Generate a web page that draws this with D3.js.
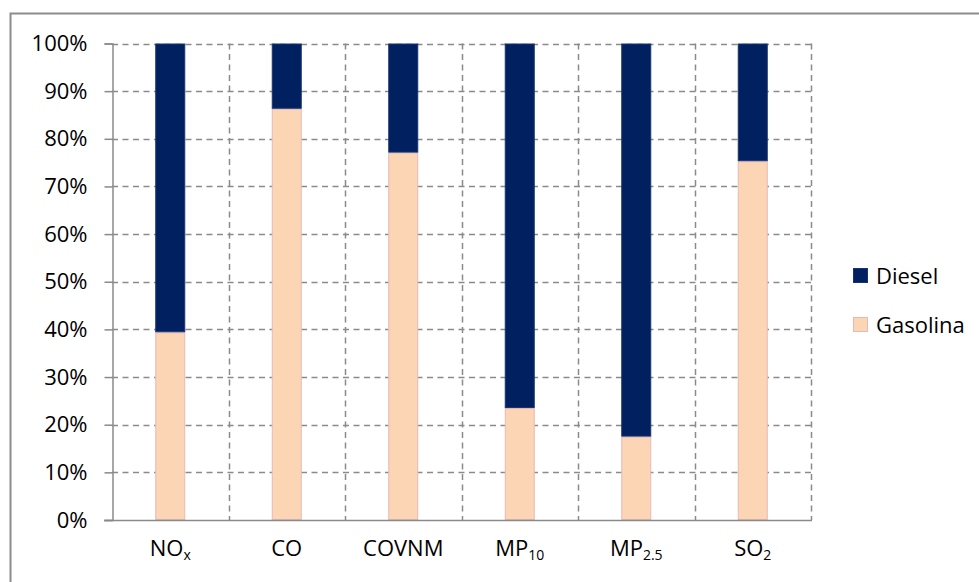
<!DOCTYPE html>
<html>
<head>
<meta charset="utf-8">
<script src="https://cdn.jsdelivr.net/npm/d3@7"></script>
<style>
  html, body { margin: 0; padding: 0; background: #fff; }
  svg { display: block; }
  text { font-family: "Open Sans", "Noto Sans", sans-serif; fill: #000; }
</style>
</head>
<body>
<svg id="chart" width="979" height="582"></svg>
<script>
// Pollutant categories: base name and subscript
const categories = ["NOx", "CO", "COVNM", "MP10", "MP2.5", "SO2"];
const labelBase = ["NO", "CO", "COVNM", "MP", "MP", "SO"];
const labelSub = ["x", "", "", "10", "2.5", "2"];

// Share of emissions by fuel (percent)
const gasolina = [39.4, 86.3, 77.1, 23.5, 17.5, 75.3];
const diesel = gasolina.map(g => 100 - g);

const yTicks = [0, 10, 20, 30, 40, 50, 60, 70, 80, 90, 100];
const seriesNames = ["Diesel", "Gasolina"];

const colors = { Diesel: "#002060", Gasolina: "#fcd5b4" };
const strokes = { Diesel: "#1a3370", Gasolina: "#e6b9b8" };

const svg = d3.select("#chart");
const plotLeft = 112, plotRight = 811, plotTop = 43.5, plotBottom = 520;
const fontSize = 22;

// outer chart frame
svg.append("path")
  .attr("d", `M10.5,582 V13.5 H979`)
  .attr("fill", "none").attr("stroke", "#8c8c8c").attr("stroke-width", 2);

const x = d3.scaleBand().domain(categories).range([plotLeft, plotRight]).paddingInner(0).paddingOuter(0);
const y = d3.scaleLinear().domain([0, 100]).range([plotBottom, plotTop]);

const grid = svg.append("g");
// horizontal dashed gridlines
grid.selectAll("line.h").data(yTicks.filter(d => d > 0)).join("line")
  .attr("x1", plotLeft).attr("x2", plotRight)
  .attr("y1", d => Math.round(y(d)) + 0.5).attr("y2", d => Math.round(y(d)) + 0.5)
  .attr("stroke", "#8a8a8a").attr("stroke-width", 1.5).attr("stroke-dasharray", "6,4.5");
// vertical dashed gridlines at category boundaries
const bounds = categories.slice(1).map(c => x(c)).concat([plotRight]);
grid.selectAll("line.v").data(bounds).join("line")
  .attr("x1", d => Math.round(d) + 0.5).attr("x2", d => Math.round(d) + 0.5)
  .attr("y1", plotTop).attr("y2", plotBottom)
  .attr("stroke", "#8a8a8a").attr("stroke-width", 1.5).attr("stroke-dasharray", "6,4.5");

// stacked bars
const rows = categories.map((c, i) => ({ cat: c, Gasolina: gasolina[i], Diesel: diesel[i] }));
const stack = d3.stack().keys(["Gasolina", "Diesel"])(rows);
const barW = 30;
svg.append("g").selectAll("g").data(stack).join("g")
  .attr("fill", d => colors[d.key]).attr("stroke", d => strokes[d.key]).attr("stroke-width", 1)
  .selectAll("rect").data(d => d).join("rect")
  .attr("x", d => x(d.data.cat) + x.bandwidth() / 2 - barW / 2 + 0.5)
  .attr("width", barW - 1)
  .attr("y", d => y(d[1]) + 0.5)
  .attr("height", d => Math.max(0, y(d[0]) - y(d[1]) - 1));

// y axis
const yAxis = svg.append("g").attr("transform", `translate(${plotLeft + 0.5},0)`)
  .call(d3.axisLeft(y).tickValues(yTicks).tickFormat(d => d + "%").tickSize(8).tickPadding(17));
yAxis.select(".domain").attr("stroke", "#8a8a8a").attr("stroke-width", 1.5);
yAxis.selectAll(".tick line").attr("stroke", "#8a8a8a").attr("stroke-width", 1.5);
yAxis.selectAll(".tick text").attr("font-size", fontSize).attr("font-family", "'Open Sans', sans-serif").attr("fill", "#000");

// x baseline
svg.append("line").attr("x1", plotLeft - 8).attr("x2", plotRight + 1)
  .attr("y1", plotBottom + 0.5).attr("y2", plotBottom + 0.5)
  .attr("stroke", "#8a8a8a").attr("stroke-width", 1.5);

// category labels with subscripts
const xl = svg.append("g").selectAll("text").data(categories).join("text")
  .attr("x", d => x(d) + x.bandwidth() / 2)
  .attr("y", 556)
  .attr("text-anchor", "middle")
  .attr("font-size", fontSize);
xl.each(function (d, i) {
  const t = d3.select(this);
  t.append("tspan").text(labelBase[i]);
  if (labelSub[i]) {
    t.append("tspan").attr("font-size", 14).attr("dy", 4).text(labelSub[i]);
  }
});

// legend
const legend = svg.append("g");
seriesNames.forEach((name, i) => {
  const ly = 268 + i * 49;
  legend.append("rect").attr("x", 853.5).attr("y", ly + 0.5).attr("width", 14).attr("height", 14)
    .attr("fill", colors[name]).attr("stroke", strokes[name]);
  legend.append("text").attr("x", 876).attr("y", ly + 16).attr("font-size", fontSize).text(name);
});
</script>
</body>
</html>
